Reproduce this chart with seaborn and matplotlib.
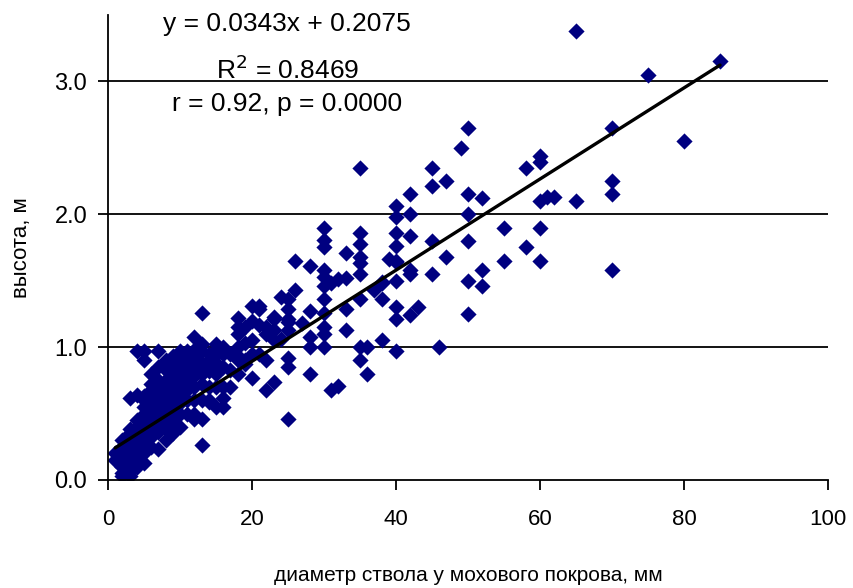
import numpy as np
import pandas as pd
import seaborn as sns
import matplotlib.pyplot as plt

# stem diameter at moss level (mm) and tree height (m)
diam = [1, 1,
        2, 2, 2, 2, 2, 2, 2, 2,
        3, 3, 3, 3, 3, 3, 3, 3, 3, 3, 3, 3,
        4, 4, 4, 4, 4, 4, 4, 4, 4, 4, 4,
        5, 5, 5, 5, 5, 5, 5, 5, 5, 5, 5, 5, 5,
        6, 6, 6, 6, 6, 6, 6, 6, 6, 6, 6, 6,
        7, 7, 7, 7, 7, 7, 7, 7, 7, 7, 7, 7,
        8, 8, 8, 8, 8, 8, 8, 8, 8, 8, 8,
        9, 9, 9, 9, 9, 9, 9, 9, 9, 9,
        10, 10, 10, 10, 10, 10, 10, 10, 10, 10,
        11, 11, 11, 11, 11, 11, 11, 11,
        12, 12, 12, 12, 12, 12, 12, 12, 12,
        13, 13, 13, 13, 13, 13, 13, 13, 13,
        14, 14, 14, 14, 14, 14,
        15, 15, 15, 15, 15, 15, 15,
        16, 16, 16, 16, 16, 16,
        17, 17, 17,
        18, 18, 18, 18, 18, 18, 18,
        19, 19, 19, 19,
        20, 20, 20, 20, 20,
        21, 21, 21, 21,
        22, 22, 22, 22,
        23, 23, 23, 23, 23,
        24, 24,
        25, 25, 25, 25, 25, 25, 25, 25,
        26, 26, 27,
        28, 28, 28, 28, 28,
        30, 30, 30, 30, 30, 30, 30, 30, 30, 30, 30,
        31, 31, 32, 32,
        33, 33, 33, 33,
        35, 35, 35, 35, 35, 35, 35, 35, 35,
        36, 36, 37,
        38, 38, 38, 38, 39,
        40, 40, 40, 40, 40, 40, 40, 40, 40, 40,
        42, 42, 42, 42, 42, 42, 43,
        45, 45, 45, 45, 46, 47, 47, 49,
        50, 50, 50, 50, 50, 50,
        52, 52, 52, 55, 55, 58, 58,
        60, 60, 60, 60, 60, 61, 62,
        65, 65, 70, 70, 70, 70, 75, 80, 85]
height = [0.20, 0.15,
          0.05, 0.10, 0.15, 0.20, 0.25, 0.30, 0.12, 0.03,
          0.03, 0.06, 0.10, 0.14, 0.18, 0.22, 0.26, 0.30, 0.35, 0.62, 0.08, 0.38,
          0.10, 0.15, 0.20, 0.25, 0.30, 0.35, 0.40, 0.45, 0.97, 0.18, 0.64,
          0.13, 0.20, 0.30, 0.35, 0.40, 0.45, 0.50, 0.55, 0.60, 0.90, 0.25, 0.63, 0.97,
          0.25, 0.32, 0.38, 0.42, 0.48, 0.52, 0.58, 0.62, 0.68, 0.72, 0.45, 0.80,
          0.23, 0.36, 0.42, 0.50, 0.55, 0.60, 0.65, 0.70, 0.75, 0.97, 0.45, 0.85,
          0.30, 0.41, 0.48, 0.55, 0.60, 0.65, 0.70, 0.75, 0.83, 0.38, 0.90,
          0.35, 0.45, 0.52, 0.60, 0.65, 0.70, 0.78, 0.82, 0.88, 0.93,
          0.40, 0.50, 0.58, 0.65, 0.72, 0.78, 0.85, 0.90, 0.97, 0.60,
          0.50, 0.60, 0.68, 0.75, 0.80, 0.88, 0.97, 0.92,
          0.50, 0.60, 0.70, 0.78, 0.85, 0.92, 1.08, 0.46, 0.98,
          0.26, 0.46, 0.60, 0.72, 0.80, 0.87, 1.02, 1.26, 0.97,
          0.60, 0.70, 0.82, 0.90, 0.95, 0.59,
          0.55, 0.70, 0.80, 0.88, 0.98, 1.02, 0.94,
          0.55, 0.70, 0.85, 0.95, 1.00, 0.62,
          0.83, 0.70, 0.95,
          0.80, 0.90, 1.00, 1.10, 1.15, 1.22, 0.93,
          0.90, 1.03, 1.15, 0.87,
          0.77, 0.95, 1.05, 1.20, 1.31,
          0.95, 1.17, 1.29, 1.31,
          0.68, 0.90, 1.10, 1.15,
          0.74, 1.05, 1.13, 1.21, 1.23,
          1.06, 1.38,
          0.46, 0.85, 0.92, 1.13, 1.19, 1.21, 1.29, 1.36,
          1.43, 1.65, 1.18,
          0.80, 1.00, 1.08, 1.27, 1.61,
          1.00, 1.10, 1.15, 1.26, 1.36, 1.46, 1.53, 1.58, 1.75, 1.81, 1.90,
          0.68, 1.48, 0.71, 1.51,
          1.13, 1.29, 1.52, 1.71,
          0.90, 1.00, 1.36, 1.55, 1.63, 1.68, 1.78, 1.86, 2.35,
          0.80, 1.00, 1.43,
          1.05, 1.36, 1.48, 1.49, 1.66,
          0.97, 1.21, 1.30, 1.50, 1.64, 1.65, 1.76, 1.86, 1.98, 2.06,
          1.24, 1.55, 1.58, 1.84, 2.00, 2.15, 1.30,
          1.55, 1.80, 2.21, 2.35, 1.00, 1.68, 2.25, 2.50,
          1.25, 1.50, 1.80, 2.00, 2.15, 2.65,
          1.46, 1.58, 2.12, 1.65, 1.90, 1.75, 2.35,
          1.65, 1.90, 2.10, 2.39, 2.44, 2.13, 2.13,
          2.10, 3.38, 1.58, 2.15, 2.25, 2.65, 3.05, 2.55, 3.15]

slope = 0.0343
intercept = 0.2075
stats_lines = ["y = 0.0343x + 0.2075", "R$^2$ = 0.8469", "r = 0.92, p = 0.0000"]

df = pd.DataFrame({"diam": diam, "height": height})

sns.set_style("white")
plt.rcParams['font.family'] = ['Liberation Sans', 'DejaVu Sans']
for k in ["text.color", "axes.labelcolor", "xtick.color", "ytick.color"]:
    plt.rcParams[k] = "black"

fig = plt.figure(figsize=(8.54, 5.88), dpi=100)
ax = fig.add_axes([0.1265, 0.1837, 0.8431, 0.7908])

# horizontal grid like the excel original
for g in [1, 2, 3]:
    ax.axhline(g, color="black", lw=1.3, zorder=0)

sns.scatterplot(data=df, x="diam", y="height", marker="D", s=68,
                color="#000080", linewidth=0, ax=ax, zorder=2)

# trend line from the fitted equation
xl = np.array([df.diam.min(), df.diam.max()])
ax.plot(xl, slope * xl + intercept, color="black", lw=2.4, zorder=3)

ax.set_xlim(0, 100)
ax.set_ylim(0, 3.5)
ax.set_xticks(range(0, 101, 20))
ax.set_yticks([0, 1, 2, 3])
ax.set_yticklabels(["0.0", "1.0", "2.0", "3.0"])

for s in ["top", "right"]:
    ax.spines[s].set_visible(False)
for s in ["left", "bottom"]:
    ax.spines[s].set_color("black")
    ax.spines[s].set_linewidth(1.3)

ax.tick_params(axis="y", direction="out", length=7, width=1.3, pad=8,
               labelsize=17, left=True)
ax.tick_params(axis="x", direction="out", length=7, width=1.3, pad=14,
               labelsize=16, bottom=True)

ax.set_xlabel("диаметр ствола у мохового покрова, мм", fontsize=15, labelpad=26)
ax.set_ylabel("высота, м", fontsize=16, labelpad=16)

ax.text(24.9, 3.43, stats_lines[0], ha="center", va="center", fontsize=19)
ax.text(24.9, 3.09, stats_lines[1], ha="center", va="center", fontsize=19)
ax.text(24.9, 2.83, stats_lines[2], ha="center", va="center", fontsize=19)

fig.savefig("out.png", dpi=100)
